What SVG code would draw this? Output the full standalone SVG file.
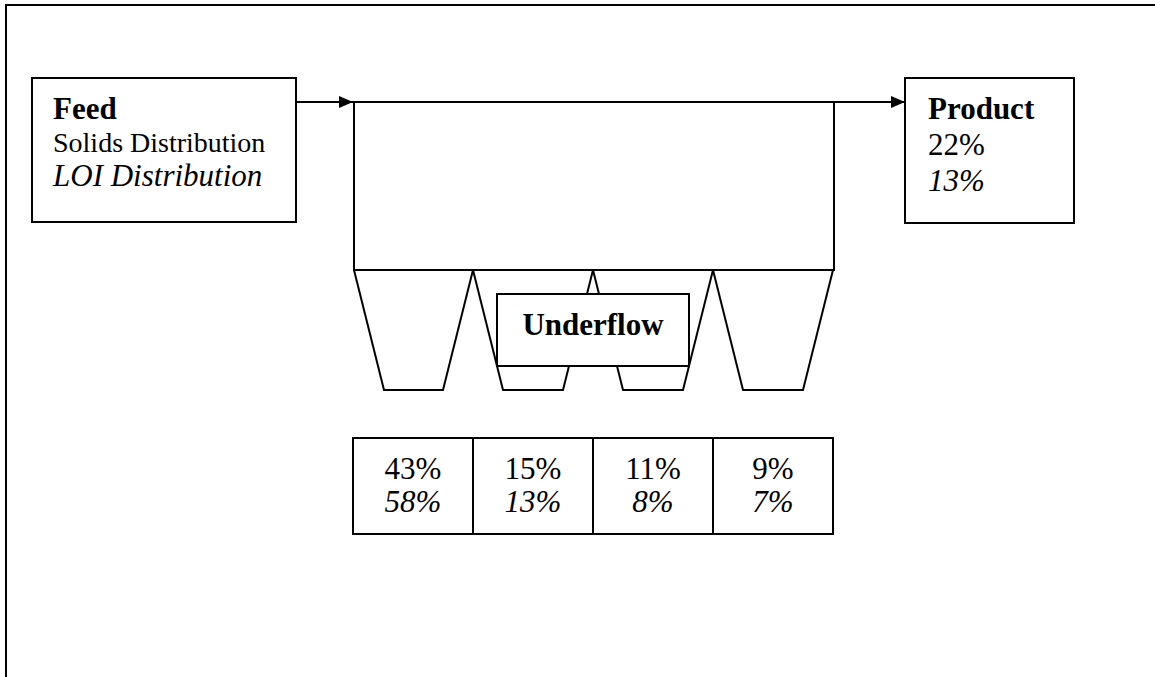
<svg xmlns="http://www.w3.org/2000/svg" width="1155" height="677" viewBox="0 0 1155 677">
<style>
.ln{stroke:#000;stroke-width:2;fill:none}
.bx{stroke:#000;stroke-width:2;fill:#fff}
.t{font-family:"Liberation Serif","Times New Roman",serif;fill:#000}
.b{font-weight:bold;font-size:31px}
.r{font-size:31px}
.i{font-style:italic;font-size:31px}
</style>
<defs>
<marker id="ah" viewBox="0 0 14 12" refX="14" refY="6" markerWidth="14" markerHeight="12" markerUnits="userSpaceOnUse" orient="auto">
<path d="M0,0 L14,6 L0,12 Z" fill="#000"/>
</marker>
</defs>
<rect x="0" y="0" width="1155" height="677" fill="#fff"/>
<g id="frame">
<path class="ln" d="M6,677 L6,5 L1155,5"/>
</g>
<g id="thickener">
<rect class="ln" x="354" y="102" width="480" height="168"/>
<path class="ln" d="M354,270 L384,390 L443,390 L473,270 L503,390 L563,390 L593,270 L623,390 L683,390 L713,270 L743,390 L803,390 L833,270"/>
</g>
<g id="connectors">
<line class="ln" x1="296" y1="102" x2="353" y2="102" marker-end="url(#ah)"/>
<line class="ln" x1="834" y1="102" x2="905" y2="102" marker-end="url(#ah)"/>
</g>
<g id="feed">
<rect class="bx" x="32" y="78" width="264" height="144"/>
<text class="t b" x="53" y="119">Feed</text>
<text class="t" x="53" y="152" font-size="28">Solids Distribution</text>
<text class="t i" x="53" y="186">LOI Distribution</text>
</g>
<g id="product">
<rect class="bx" x="905" y="78" width="169" height="145"/>
<text class="t b" x="928" y="119">Product</text>
<text class="t r" x="928" y="155">22%</text>
<text class="t i" x="928" y="191">13%</text>
</g>
<g id="underflow">
<rect class="bx" x="497" y="294" width="192" height="72"/>
<text class="t b" x="593" y="335" text-anchor="middle">Underflow</text>
</g>
<g id="table">
<rect class="ln" x="353" y="438" width="480" height="96"/>
<line class="ln" x1="473" y1="438" x2="473" y2="534"/>
<line class="ln" x1="593" y1="438" x2="593" y2="534"/>
<line class="ln" x1="713" y1="438" x2="713" y2="534"/>
<g class="t" text-anchor="middle">
<text class="r" x="413" y="479">43%</text>
<text class="i" x="413" y="512">58%</text>
<text class="r" x="533" y="479">15%</text>
<text class="i" x="533" y="512">13%</text>
<text class="r" x="653" y="479">11%</text>
<text class="i" x="653" y="512">8%</text>
<text class="r" x="773" y="479">9%</text>
<text class="i" x="773" y="512">7%</text>
</g>
</g>
</svg>
